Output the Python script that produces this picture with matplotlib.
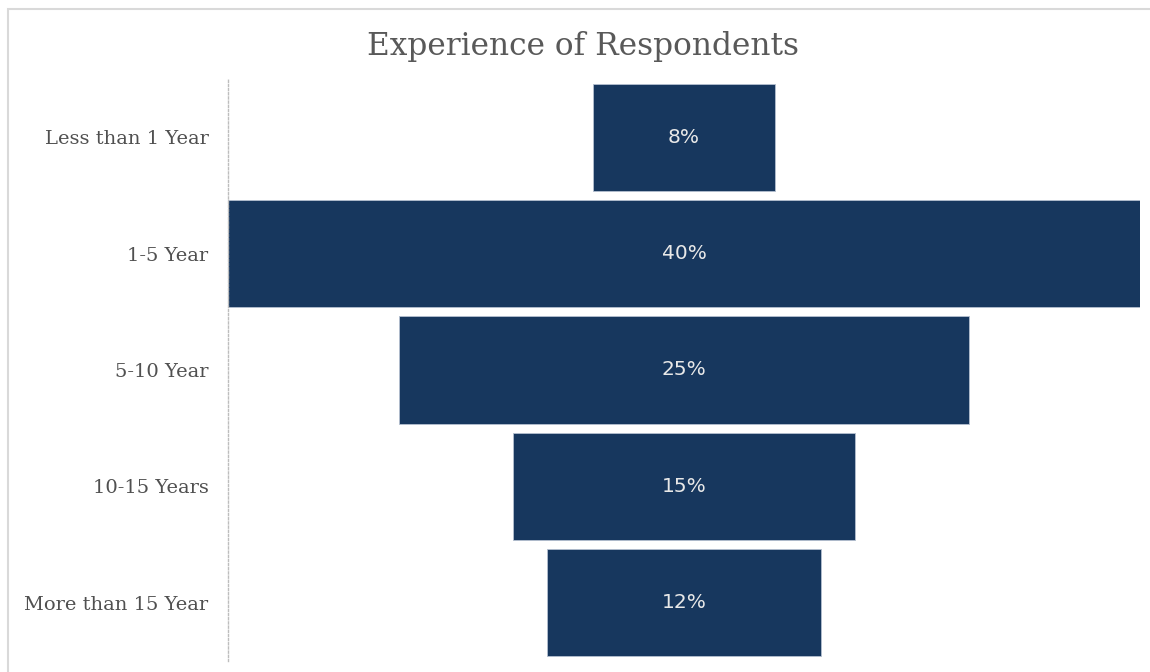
import matplotlib.pyplot as plt
from matplotlib.patches import Rectangle

categories = ["Less than 1 Year", "1-5 Year", "5-10 Year", "10-15 Years", "More than 15 Year"]
shares = [8, 40, 25, 15, 12]

bar_color = "#17375E"
text_gray = "#595959"

fig = plt.figure(figsize=(11.5, 6.72), dpi=100)
ax = fig.add_axes([228 / 1150, 11 / 672, 912 / 1150, 582 / 672])

# chart frame (cut off at right and bottom like the screenshot)
fig.patches.append(Rectangle((8 / 1150, -0.1), 1.2, (672 - 9) / 672 + 0.1,
                             transform=fig.transFigure, fill=False,
                             edgecolor="#d9d9d9", linewidth=1.5))

top = max(shares)
lefts = [(top - v) / 2 for v in shares]
pos = list(range(len(categories)))
bars = ax.barh(pos, shares, left=lefts, height=0.92, color=bar_color,
               edgecolor="#b4c0d0", linewidth=0.6)

for b, v in zip(bars, shares):
    ax.text(b.get_x() + b.get_width() / 2, b.get_y() + b.get_height() / 2,
            f"{v}%", ha="center", va="center", color="#e8e8e8",
            fontsize=14.5, family="DejaVu Sans")

ax.set_xlim(0, top)
ax.set_ylim(len(categories) - 0.5, -0.5)
ax.set_yticks(pos)
ax.set_yticklabels(categories, family="DejaVu Serif", fontsize=14, color="#505050")
ax.tick_params(axis="y", length=0, pad=14)
ax.set_xticks([])
for s in ["top", "right", "bottom"]:
    ax.spines[s].set_visible(False)
ax.spines["left"].set_color("#bdbdbd")
ax.spines["left"].set_linestyle((0, (1.5, 1.5)))
ax.spines["left"].set_linewidth(1)

fig.text(583 / 1150, 1 - 46 / 672, "Experience of Respondents", ha="center", va="center",
         family="DejaVu Serif", fontsize=22.5, color=text_gray)

fig.savefig("out.png", dpi=100)
